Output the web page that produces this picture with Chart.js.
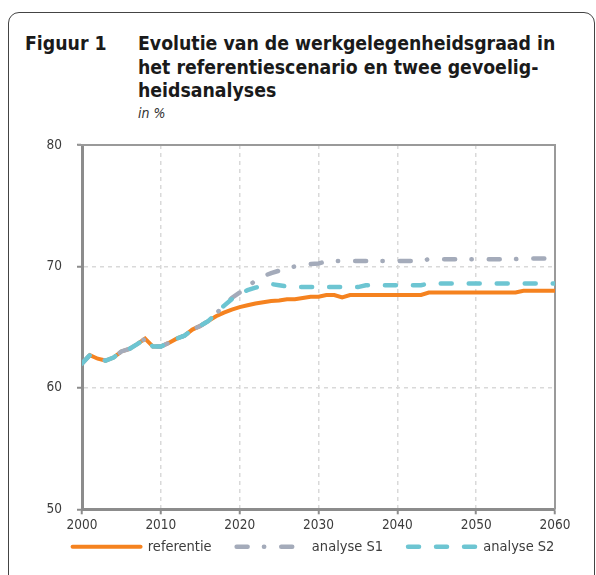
<!DOCTYPE html>
<html>
<head>
  <meta charset="UTF-8">
  <title>Figuur 1</title>
  <script src="https://cdn.jsdelivr.net/npm/chart.js"></script>
  <style>
    body {
      margin: 0;
      background: #fff;
      font-family: "DejaVu Sans Condensed", "DejaVu Sans", sans-serif;
      color: #1a1a1a;
      overflow: hidden;
    }
    #kader {
      position: absolute;
      left: 8px;
      top: 12px;
      width: 585px;
      height: 700px;
      border: 1.5px solid #444;
      border-radius: 11px;
    }
    .titel {
      position: absolute;
      top: 32px;
      font-size: 19.3px;
      font-weight: bold;
      line-height: 23.5px;
      white-space: nowrap;
    }
    #nummer { left: 25px; }
    #tekst { left: 138px; }
    #eenheid {
      position: absolute;
      left: 138px;
      top: 105px;
      font-size: 14px;
      line-height: 16px;
      font-style: italic;
      color: #333;
    }
    #grafiek {
      position: absolute;
      left: 0;
      top: 0;
      width: 596px;
      height: 586px;
    }
  </style>
</head>
<body>
  <div id="kader"></div>
  <div class="titel" id="nummer">Figuur 1</div>
  <div class="titel" id="tekst">Evolutie van de werkgelegenheidsgraad in<br>het referentiescenario en twee gevoelig-<br>heidsanalyses</div>
  <div id="eenheid">in %</div>
  <div id="grafiek"><canvas id="c" width="596" height="586"></canvas></div>

  <script>
    const jaren = [
      2000, 2001, 2002, 2003, 2004, 2005, 2006, 2007, 2008, 2009,
      2010, 2011, 2012, 2013, 2014, 2015, 2016, 2017, 2018, 2019,
      2020, 2021, 2022, 2023, 2024, 2025, 2026, 2027, 2028, 2029,
      2030, 2031, 2032, 2033, 2034, 2035, 2036, 2037, 2038, 2039,
      2040, 2041, 2042, 2043, 2044, 2045, 2046, 2047, 2048, 2049,
      2050, 2051, 2052, 2053, 2054, 2055, 2056, 2057, 2058, 2059,
      2060
    ];
    const referentie = [
      62.0, 62.7, 62.4, 62.25, 62.5, 63.0, 63.2, 63.6, 64.05, 63.4,
      63.4, 63.7, 64.05, 64.3, 64.8, 65.1, 65.5, 65.9, 66.2, 66.45,
      66.65, 66.8, 66.95, 67.05, 67.15, 67.2, 67.3, 67.3, 67.4, 67.5,
      67.5, 67.65, 67.65, 67.45, 67.65, 67.65, 67.65, 67.65, 67.65, 67.65,
      67.65, 67.65, 67.65, 67.65, 67.85, 67.85, 67.85, 67.85, 67.85, 67.85,
      67.85, 67.85, 67.85, 67.85, 67.85, 67.85, 68.0, 68.0, 68.0, 68.0,
      68.0
    ];
    const analyseS1 = [
      62.0, 62.7, 62.4, 62.25, 62.5, 63.0, 63.2, 63.6, 64.05, 63.4,
      63.4, 63.7, 64.05, 64.3, 64.8, 65.1, 65.5, 66.1, 66.8, 67.4,
      67.85, 68.3, 68.85, 69.2, 69.45, 69.65, 69.85, 70.0, 70.1, 70.2,
      70.25, 70.4, 70.45, 70.45, 70.45, 70.45, 70.45, 70.45, 70.45, 70.45,
      70.45, 70.45, 70.45, 70.45, 70.6, 70.6, 70.6, 70.6, 70.6, 70.6,
      70.6, 70.6, 70.6, 70.6, 70.6, 70.6, 70.65, 70.65, 70.65, 70.65,
      70.65
    ];
    const analyseS2 = [
      62.0, 62.7, 62.4, 62.25, 62.5, 63.0, 63.2, 63.6, 64.05, 63.4,
      63.4, 63.7, 64.05, 64.3, 64.8, 65.1, 65.5, 66.1, 66.75, 67.3,
      67.75, 68.05, 68.25, 68.45, 68.55, 68.45, 68.35, 68.3, 68.3, 68.3,
      68.3, 68.3, 68.3, 68.3, 68.3, 68.3, 68.45, 68.45, 68.45, 68.45,
      68.45, 68.45, 68.45, 68.45, 68.6, 68.6, 68.6, 68.6, 68.6, 68.6,
      68.6, 68.6, 68.6, 68.6, 68.6, 68.6, 68.6, 68.6, 68.6, 68.6,
      68.6
    ];
    const xTicks = [2000, 2010, 2020, 2030, 2040, 2050, 2060];
    const yTicks = [50, 60, 70, 80];

    const punten = (reeks) => jaren.map((j, i) => ({ x: j, y: reeks[i] }));
    const asKleur = '#8c8c8c';
    const tickFont = { family: '"DejaVu Sans Condensed", "DejaVu Sans"', size: 13.5 };

    // rand boven en rechts van het tekengebied
    const kaderPlugin = {
      id: 'kaderPlugin',
      beforeDatasetsDraw(chart) {
        const { ctx, chartArea: a } = chart;
        ctx.save();
        ctx.strokeStyle = '#9a9a9a';
        ctx.lineWidth = 2;
        ctx.beginPath();
        ctx.moveTo(a.left - 4, a.top);
        ctx.lineTo(a.right, a.top);
        ctx.lineTo(a.right, a.bottom);
        ctx.stroke();
        ctx.restore();
      }
    };

    // legende iets hoger en naar rechts schuiven
    const legendaPlugin = {
      id: 'legendaPlugin',
      afterLayout(chart) {
        const l = chart.legend;
        l.left += 36; l.right += 36;
        l.top -= 22; l.bottom -= 22;
      }
    };

    new Chart(document.getElementById('c'), {
      type: 'line',
      data: {
        datasets: [
          {
            label: 'referentie',
            data: punten(referentie),
            borderColor: '#f5821f',
            backgroundColor: '#f5821f',
            borderWidth: 4,
            borderCapStyle: 'round',
            order: 3
          },
          {
            label: 'analyse S1',
            data: punten(analyseS1),
            borderColor: '#a4abba',
            backgroundColor: '#a4abba',
            borderWidth: 4.5,
            borderCapStyle: 'round',
            borderDash: [11, 16.3, 0.3, 17],
            order: 2
          },
          {
            label: 'analyse S2',
            data: punten(analyseS2),
            borderColor: '#6dc5d2',
            backgroundColor: '#6dc5d2',
            borderWidth: 4.5,
            borderCapStyle: 'round',
            borderDash: [11, 17],
            order: 1
          }
        ]
      },
      options: {
        responsive: false,
        animation: false,
        elements: { point: { radius: 0 }, line: { tension: 0 } },
        layout: { padding: { top: 145, right: 41, bottom: 0, left: 0 } },
        scales: {
          x: {
            type: 'linear',
            min: 2000,
            max: 2060,
            afterBuildTicks: (s) => { s.ticks = xTicks.map(v => ({ value: v })); },
            ticks: {
              padding: 3,
              color: '#3c3c3c',
              font: tickFont,
              callback: (v) => String(v)
            },
            grid: {
              color: '#d9d9d9',
              lineWidth: 1.5,
              tickLength: 5,
              tickColor: asKleur,
              tickWidth: 2,
              tickBorderDash: []
            },
            border: { color: asKleur, width: 3, dash: [4, 4] }
          },
          y: {
            min: 50,
            max: 80,
            afterFit: (s) => { s.width = 82; },
            afterBuildTicks: (s) => { s.ticks = yTicks.map(v => ({ value: v })); },
            ticks: {
              padding: 15,
              color: '#3c3c3c',
              font: tickFont
            },
            grid: {
              color: '#d9d9d9',
              lineWidth: 1.5,
              tickLength: 5,
              tickColor: asKleur,
              tickWidth: 2,
              tickBorderDash: []
            },
            border: { color: asKleur, width: 3, dash: [4, 4] }
          }
        },
        plugins: {
          tooltip: { enabled: false },
          legend: {
            position: 'bottom',
            labels: {
              usePointStyle: true,
              pointStyle: 'line',
              pointStyleWidth: 68,
              padding: 25,
              color: '#3c3c3c',
              font: { family: '"DejaVu Sans Condensed", "DejaVu Sans"', size: 14.5 },
              sort: (a, b) => a.datasetIndex - b.datasetIndex,
              generateLabels: (chart) => {
                const items = Chart.defaults.plugins.legend.labels.generateLabels(chart);
                items.forEach((it) => {
                  const ds = chart.data.datasets[it.datasetIndex];
                  it.lineDash = ds.borderDash || [];
                  it.lineCap = 'round';
                  it.lineWidth = ds.borderWidth;
                  it.strokeStyle = ds.borderColor;
                });
                return items;
              }
            }
          }
        }
      },
      plugins: [kaderPlugin, legendaPlugin]
    });
  </script>
</body>
</html>
